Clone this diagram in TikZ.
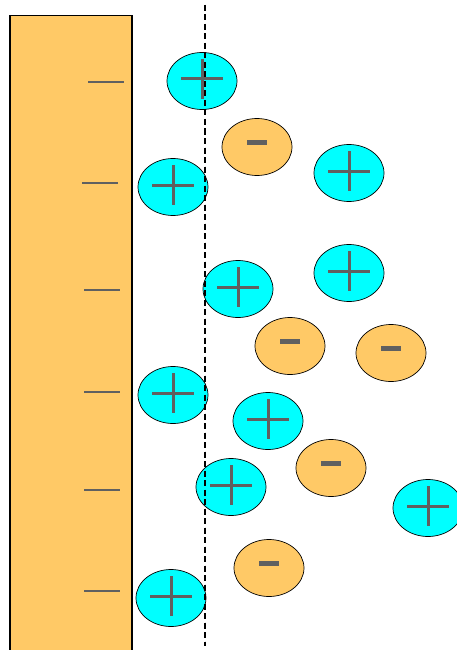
\documentclass[tikz,border=0pt]{standalone}
\usetikzlibrary{shapes.geometric}
\definecolor{electrode}{RGB}{255,201,102}
\definecolor{ioncyan}{RGB}{0,255,255}
\definecolor{signgray}{RGB}{96,96,96}
\tikzset{
  cation/.style={ellipse,draw=black,line width=0.7pt,fill=ioncyan,minimum width=70pt,minimum height=57pt,inner sep=0pt},
  anion/.style={ellipse,draw=black,line width=0.7pt,fill=electrode,minimum width=70pt,minimum height=57pt,inner sep=0pt},
  plusbar/.style={draw=signgray,line width=3pt},
  charge/.style={draw=signgray,line width=1.2pt}
}
\begin{document}
\begin{tikzpicture}[x=1pt,y=-1pt]
  \useasboundingbox (0,0) rectangle (457,650);
  % electrode
  \draw[fill=electrode,line width=1.4pt] (10,651) -- (10,15.5) -- (132,15.5) -- (132,651);
  \foreach \x/\y in {88/82,82/183,84/290,84/392,84/490,84/591}
    \draw[charge] (\x,\y) -- ++(36,0);
  % outer Helmholtz plane
  \draw[line width=1.1pt,dash pattern=on 6pt off 3.5pt] (205,5) -- (205,646);
  % cations
  \foreach \n/\x/\y in {c1/202/81,c2/173/187,c3/349/173,c4/238/289,c5/349/273,
      c6/173/395,c7/268/421,c8/231/487,c9/428/508,c10/171/598} {
    \node[cation] (\n) at (\x,\y) {};
    \path[plusbar] ([xshift=-21pt,yshift=2pt]\n.center) -- ([xshift=21pt,yshift=2pt]\n.center);
    \path[plusbar] ([yshift=22pt]\n.center) -- ([yshift=-18pt]\n.center);
  }
  % redraw dashed line over the ions it crosses
  \draw[line width=1.1pt,dash pattern=on 6pt off 3.5pt] (205,5) -- (205,646);
  % anions
  \foreach \n/\x/\y in {a1/257/147,a2/290/346,a3/391/353,a4/331/468,a5/269/568} {
    \node[anion] (\n) at (\x,\y) {};
    \fill[signgray] ([xshift=-10pt,yshift=2pt]\n.center) rectangle ([xshift=10pt,yshift=7pt]\n.center);
  }
\end{tikzpicture}
\end{document}
